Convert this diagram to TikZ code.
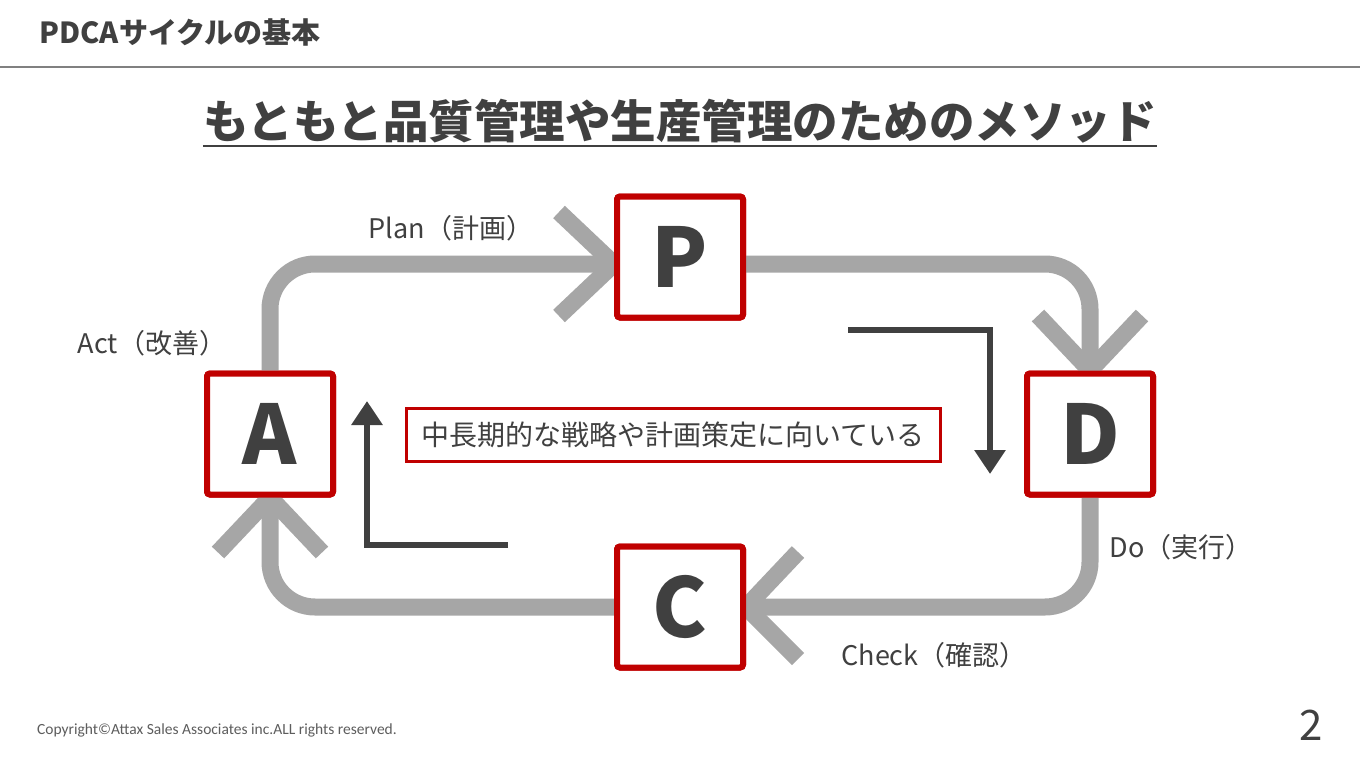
\documentclass[tikz,border=0pt]{standalone}
\usepackage{fontspec}
\setmainfont{Noto Sans CJK JP}
\newfontfamily\copyfont{Carlito}
\usetikzlibrary{arrows.meta}
\definecolor{pdcared}{HTML}{C00000}
\definecolor{loopgray}{HTML}{A6A6A6}
\definecolor{inkgray}{HTML}{404040}
\definecolor{rulegray}{HTML}{808080}

\begin{document}
\begin{tikzpicture}[x=1pt,y=-1pt,
  stage/.style={draw=pdcared,line width=6pt,fill=white,rounded corners=3pt,
    minimum width=126pt,minimum height=121pt,inner sep=0pt,
    text=inkgray,font=\fontsize{82}{82}\selectfont\bfseries},
  loop/.style={draw=loopgray,line width=17pt,rounded corners=45pt},
  chevron/.style={draw=loopgray,line width=17pt},
  turn/.style={draw=inkgray,line width=6pt,-{Triangle[width=30pt,length=24pt]}},
  phase/.style={text=inkgray,font=\fontsize{27}{27}\selectfont}]
\useasboundingbox[fill=white] (0,0) rectangle (1360,766);
% header
\node[anchor=west,text=inkgray,font=\fontsize{29}{29}\selectfont\bfseries] (head) at (36,32) {PDCAサイクルの基本};
\draw[rulegray,line width=2pt] (0,67) -- (1360,67);
\node[inner sep=0pt,text=inkgray,font=\fontsize{45.5}{45.5}\selectfont\bfseries] (title) at (680,121) {もともと品質管理や生産管理のためのメソッド};
\draw[inkgray,line width=2pt] ([yshift=-3pt]title.south west) -- ([yshift=-3pt]title.south east);

% the four stages
\node[stage] (P) at (680,257) {P};
\node[stage] (D) at (1090,434) {D};
\node[stage] (C) at (680,607) {C};
\node[stage] (A) at (270,434) {A};

% gray cycle
\draw[loop] (A.north) |- ([yshift=-7pt]P.west);
\draw[loop] ([yshift=-7pt]P.east) -| (D.north);
\draw[loop] (D.south) |- (C.east);
\draw[loop] (C.west) -| (A.south);
\draw[chevron] ([shift={(-55,-45)}]P.west) -- ([yshift=-7pt]P.west) -- ([shift={(-55,59)}]P.west);
\draw[chevron] ([shift={(-52,-55)}]D.north) -- (D.north) -- ([shift={(52,-55)}]D.north);
\draw[chevron] ([shift={(52,-55)}]C.east) -- (C.east) -- ([shift={(52,52)}]C.east);
\draw[chevron] ([shift={(-52,55)}]A.south) -- (A.south) -- ([shift={(52,55)}]A.south);
\foreach \s in {P,D,C,A} \node[stage] at (\s) {\s};

% labels
\node[phase] (plan) at (451,228) {Plan（計画）};
\node[phase] (act) at (152,343) {Act（改善）};
\node[phase] (do) at (1181,547) {Do（実行）};
\node[phase] (check) at (934,655) {Check（確認）};

% inner note and arrows
\node[draw=pdcared,line width=3pt,fill=white,minimum width=534pt,minimum height=53pt,
  text=inkgray,font=\fontsize{28}{28}\selectfont] (note) at (673,435) {中長期的な戦略や計画策定に向いている};
\coordinate (pd1) at (848,330);
\coordinate (pd2) at (990,474);
\coordinate (ca1) at (508,545);
\coordinate (ca2) at (367,401);
\draw[turn] (pd1) -| (pd2);
\draw[turn] (ca1) -| (ca2);

% footer
\node[anchor=west,inner sep=0pt,text=inkgray!85,font=\copyfont\fontsize{15.5}{15.5}\selectfont] (copy) at (37,730) {Copyright©Attax Sales Associates inc.ALL rights reserved.};
\node[text=inkgray,font=\fontsize{42}{42}\selectfont] (page) at (1311,725) {2};
\end{tikzpicture}
\end{document}
